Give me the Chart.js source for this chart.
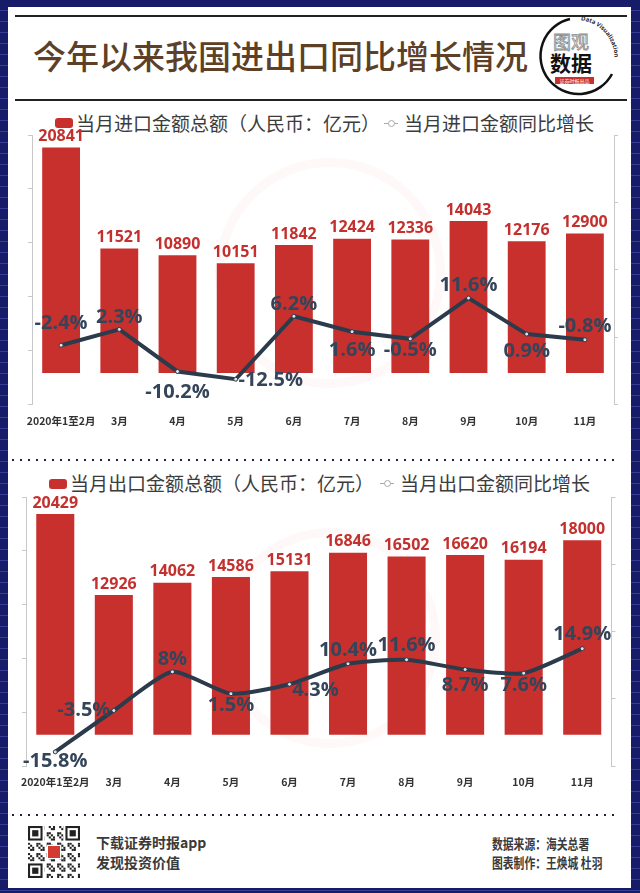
<!DOCTYPE html>
<html>
<head>
<meta charset="utf-8">
<script src="https://cdn.jsdelivr.net/npm/chart.js@4.4.1/dist/chart.umd.min.js"></script>
<style>
  html, body { margin: 0; padding: 0; }
  body {
    width: 640px; height: 893px; position: relative; overflow: hidden;
    background-color: #161c68;
    background-image: repeating-linear-gradient(to bottom, #161c68 0 10px, #343d95 10px 11px);
    font-family: "Noto Sans CJK SC", "Noto Sans", sans-serif;
  }
  .panel { position: absolute; left: 8px; top: 7px; width: 623px; height: 881px; background: #fff; }
  .hline { position: absolute; left: 15px; width: 612px; height: 2px; background: #222; }
  .title { position: absolute; left: 33px; top: 33px; font-size: 33px; line-height: 44px; color: #5e4026; font-weight: 500; letter-spacing: 0; white-space: nowrap; }
  .dots { position: absolute; left: 12px; width: 602px; height: 2px;
    background: repeating-linear-gradient(to right, #1c2240 0 2px, transparent 2px 8px); }
  .legend { position: absolute; font-size: 19px; line-height: 24px; color: #3c3c3c; white-space: nowrap; }
  .legend .box { position: absolute; width: 18px; height: 10px; border-radius: 3px; background: #c8302e; }
  .legend .mk { position: absolute; width: 14px; height: 1px; background: #aaa; }
  .legend .mk::after { content: ""; position: absolute; left: 4px; top: -3px; width: 5px; height: 5px; border: 1px solid #aaa; border-radius: 50%; background: #fff; }
  .legend span { position: absolute; top: 0; }
  .wm { position: absolute; border-radius: 50%; border: 9px solid rgba(222, 70, 70, 0.035); }
  canvas { position: absolute; left: 0; }
  .foot { position: absolute; font-weight: bold; color: #3a3a3a; white-space: nowrap; }
  .foot.l { left: 96px; font-size: 14px; line-height: 18px; }
  .foot.r { left: 492px; font-size: 13.5px; line-height: 18px; transform: scaleX(0.8); transform-origin: left center; }
</style>
</head>
<body>
<div class="panel"></div>
<div class="hline" style="top:15px"></div>
<div class="hline" style="top:99px"></div>
<div class="title">今年以来我国进出口同比增长情况</div>

<svg style="position:absolute;left:530px;top:12px" width="94" height="92" viewBox="0 0 94 92">
  <defs><path id="arcp" d="M 47 8 A 38 38 0 0 1 84 52"/></defs>
  <path d="M 40 7 A 38 38 0 1 0 82 62" fill="none" stroke="#111" stroke-width="2.5"/>
  <text font-size="6" font-family="Open Sans" font-weight="bold" fill="#222"><textPath href="#arcp" startOffset="6%">Data Visualization</textPath></text>
  <text x="41" y="37" font-size="18" text-anchor="middle" fill="#fff" stroke="#888" stroke-width="0.8" font-family="Noto Sans CJK SC">图观</text>
  <text x="41" y="59" font-size="21" text-anchor="middle" fill="#111" font-weight="bold" font-family="Noto Sans CJK SC">数据</text>
  <rect x="25" y="65" width="39" height="7" fill="#c8302e"/>
  <text x="44.5" y="70.6" font-size="5" text-anchor="middle" fill="#fff" font-family="Noto Sans CJK SC">证券时报出品</text>
</svg>

<div class="wm" style="left:215px;top:158px;width:212px;height:212px"></div>
<div class="wm" style="left:220px;top:528px;width:202px;height:202px"></div>

<div class="legend" style="left:0;top:111px;width:640px;height:24px">
  <div class="box" style="left:55px;top:7px"></div>
  <span style="left:76px">当月进口金额总额（人民币：亿元）</span>
  <div class="mk" style="left:384px;top:12px"></div>
  <span style="left:404px">当月进口金额同比增长</span>
</div>

<div class="dots" style="top:459px"></div>

<div class="legend" style="left:0;top:471px;width:640px;height:24px">
  <div class="box" style="left:49px;top:8px"></div>
  <span style="left:70px">当月出口金额总额（人民币：亿元）</span>
  <div class="mk" style="left:380px;top:12px"></div>
  <span style="left:400px">当月出口金额同比增长</span>
</div>

<canvas id="impChart" width="640" height="340" style="top:100px"></canvas>
<canvas id="expChart" width="640" height="340" style="top:460px"></canvas>

<div class="dots" style="top:814px"></div>

<canvas id="qr" width="52" height="52" style="left:28px;top:826px"></canvas>
<div class="foot l" style="top:833px">下载证券时报app</div>
<div class="foot l" style="top:853px">发现投资价值</div>
<div class="foot r" style="top:834px">数据来源：海关总署</div>
<div class="foot r" style="top:853px">图表制作：王焕城 杜羽</div>

<script>
// 月份（两张图共用）
const months = ["2020年1至2月", "3月", "4月", "5月", "6月", "7月", "8月", "9月", "10月", "11月"];

// 进口：金额（亿元）与同比（%）
const importValue  = [20841, 11521, 10890, 10151, 11842, 12424, 12336, 14043, 12176, 12900];
const importGrowth = [-2.4, 2.3, -10.2, -12.5, 6.2, 1.6, -0.5, 11.6, 0.9, -0.8];

// 出口：金额（亿元）与同比（%）
const exportValue  = [20429, 12926, 14062, 14586, 15131, 16846, 16502, 16620, 16194, 18000];
const exportGrowth = [-15.8, -3.5, 8, 1.5, 4.3, 10.4, 11.6, 8.7, 7.6, 14.9];

// 百分比标签相对数据点的偏移 [dx, dy]
const importLabelOffset = [[0,-22],[0,-12],[0,21],[35,1],[0,-12],[0,19],[0,11],[0,-13],[0,17],[0,-14]];
const exportLabelOffset = [[0,9],[-30,0],[0,-13],[0,12],[26,6],[0,-13],[0,-14],[0,16],[0,12],[0,-14]];

const RED  = "#c8302e";
const LINE = "#2c3b4c";
const AXIS = "#c8c8c8";

const valueLabels = {
    id: "valueLabels",
    afterDatasetsDraw(chart, args, opts) {
        const ctx = chart.ctx;
        ctx.save();
        ctx.textAlign = "center";
        ctx.textBaseline = "middle";

        // 柱顶金额
        const bars = chart.getDatasetMeta(0);
        ctx.font = "bold 16px 'Open Sans'";
        ctx.fillStyle = "#c4302e";
        bars.data.forEach(function(el, i) {
            ctx.fillText(String(chart.data.datasets[0].data[i]), el.x, el.y - 11);
        });

        // 折线同比
        const pts = chart.getDatasetMeta(1);
        ctx.font = "bold 20px 'Open Sans'";
        ctx.fillStyle = "#34455a";
        pts.data.forEach(function(el, i) {
            const off = opts.offsets[i];
            ctx.fillText(chart.data.datasets[1].data[i] + "%", el.x + off[0], el.y + off[1]);
        });
        ctx.restore();
    }
};

function buildChart(id, values, growth, offsets, padding, tension) {
    return new Chart(document.getElementById(id), {
        type: "bar",
        data: {
            labels: months,
            datasets: [
                {
                    type: "bar",
                    data: values,
                    backgroundColor: RED,
                    borderWidth: 0,
                    barPercentage: 0.65,
                    categoryPercentage: 1,
                    yAxisID: "y",
                    order: 2,
                },
                {
                    type: "line",
                    data: growth,
                    borderColor: LINE,
                    borderWidth: 4,
                    tension: tension,
                    pointRadius: 2,
                    pointBackgroundColor: "#dde3ea",
                    pointBorderColor: LINE,
                    pointBorderWidth: 1,
                    yAxisID: "y1",
                    order: 1,
                },
            ],
        },
        options: {
            responsive: false,
            animation: false,
            layout: { padding: padding },
            plugins: {
                legend: { display: false },
                tooltip: { enabled: false },
                valueLabels: { offsets: offsets },
            },
            scales: {
                x: {
                    grid: { display: false, drawTicks: false },
                    border: { display: false },
                    ticks: {
                        color: "#333",
                        padding: 10,
                        autoSkip: false,
                        maxRotation: 0,
                        font: { family: "'Noto Sans CJK SC'", size: 10.5, weight: "bold" },
                    },
                    afterFit: function(s) { s.height = 30; },
                },
                y: {
                    position: "left",
                    min: -2900,
                    max: 22000,
                    ticks: { display: false, stepSize: 5000 },
                    grid: {
                        color: function(c) { return c.tick && c.tick.value === 0 ? "#cfcfcf" : "rgba(0,0,0,0)"; },
                        tickColor: AXIS,
                        tickLength: 4,
                    },
                    border: { color: AXIS },
                    afterFit: function(s) { s.width = 4; },
                },
                y1: {
                    position: "right",
                    min: -20,
                    max: 60,
                    ticks: { display: false, stepSize: 20 },
                    grid: { drawOnChartArea: false, tickColor: AXIS, tickLength: 4 },
                    border: { color: AXIS },
                    afterFit: function(s) { s.width = 4; },
                },
            },
        },
        plugins: [valueLabels],
    });
}

buildChart("impChart", importValue, importGrowth, importLabelOffset,
    { left: 28, right: 22, top: 35, bottom: 5.5 }, 0);
buildChart("expChart", exportValue, exportGrowth, exportLabelOffset,
    { left: 22, right: 24.5, top: 37, bottom: 4 }, 0.2);

// 二维码装饰
(function drawQr() {
    const c = document.getElementById("qr").getContext("2d");
    const n = 25, s = 52 / n;
    c.fillStyle = "#fff";
    c.fillRect(0, 0, 52, 52);
    c.fillStyle = "#222";
    for (let i = 0; i < n; i++) {
        for (let j = 0; j < n; j++) {
            if (((i * 7 + j * 13 + i * j) % 5) < 2) c.fillRect(j * s, i * s, s, s);
        }
    }
    [[0, 0], [n - 7, 0], [0, n - 7]].forEach(function(p) {
        const x = p[0] * s, y = p[1] * s;
        c.fillStyle = "#fff"; c.fillRect(x - s, y - s, 9 * s, 9 * s);
        c.fillStyle = "#222"; c.fillRect(x, y, 7 * s, 7 * s);
        c.fillStyle = "#fff"; c.fillRect(x + s, y + s, 5 * s, 5 * s);
        c.fillStyle = "#222"; c.fillRect(x + 2 * s, y + 2 * s, 3 * s, 3 * s);
    });
    c.fillStyle = "#fff"; c.fillRect(19, 19, 14, 14);
    c.fillStyle = "#d23a32"; c.fillRect(20, 20, 12, 12);
})();
</script>
</body>
</html>
